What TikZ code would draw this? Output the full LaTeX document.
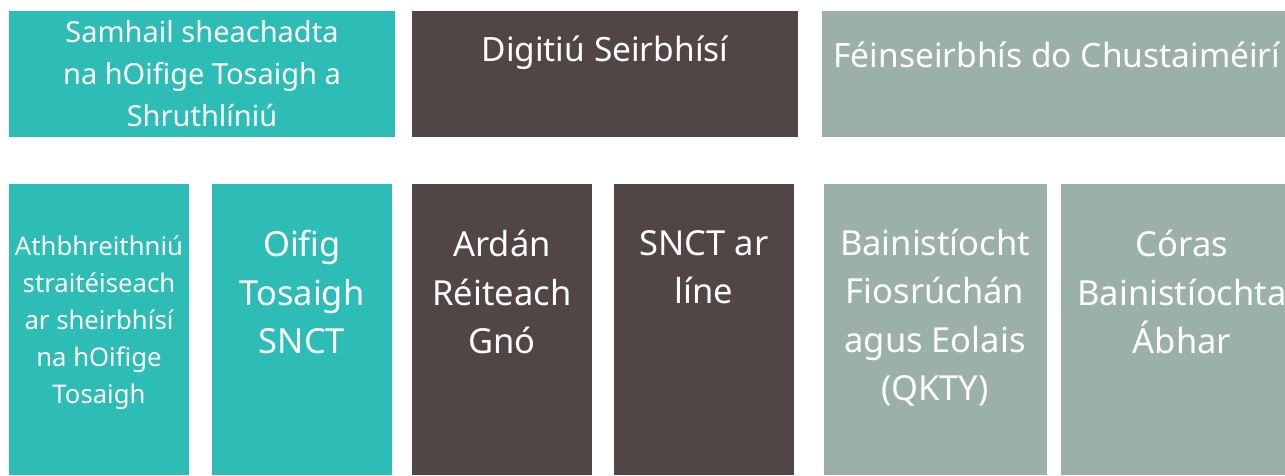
\documentclass[tikz,border=0pt]{standalone}
\usepackage{fontspec}
\setmainfont{Noto Sans}
\definecolor{teal1}{HTML}{2EBDB6}
\definecolor{brown1}{HTML}{524546}
\definecolor{gray1}{HTML}{9CB0AB}
\begin{document}
\begin{tikzpicture}[x=1pt,y=-1pt,
  txt/.style={text=white,align=center,inner sep=0pt},
  big/.style={font=\fontsize{29}{42}\selectfont},
  head/.style={font=\fontsize{33.5}{42}\selectfont},
  mid/.style={font=\fontsize{34.5}{48.5}\selectfont},
  small/.style={font=\fontsize{25.7}{37}\selectfont}]
\useasboundingbox (0,0) rectangle (1285,475);
% top row
\fill[teal1] (9,11) rectangle (395,137);
\fill[brown1] (412,11) rectangle (798,137);
\fill[gray1] (822,11) rectangle (1285,137);
% bottom row
\fill[teal1] (9,184) rectangle (189,475);
\fill[teal1] (212,184) rectangle (392,475);
\fill[brown1] (412,184) rectangle (592,475);
\fill[brown1] (614,184) rectangle (794,475);
\fill[gray1] (824,184) rectangle (1047,475);
\fill[gray1] (1061,184) rectangle (1285,475);
% texts
\node[txt,big] (a) at (202,73.5) {Samhail sheachadta\\na hOifige Tosaigh a\\Shruthlíniú};
\node[txt,head] (b) at (605,53) {Digitiú Seirbhísí};
\node[txt,head] (c) at (1057,55) {Féinseirbhís do Chustaiméirí};
\node[txt,small] (d) at (99,323) {Athbhreithniú\\straitéiseach\\ar sheirbhísí\\na hOifige\\Tosaigh};
\node[txt,mid] (e) at (302,292) {Oifig\\Tosaigh\\SNCT};
\node[txt,mid] (f) at (502,292) {Ardán\\Réiteach\\Gnó};
\node[txt,mid] (g) at (704,267) {SNCT ar\\líne};
\node[txt,mid] (h) at (935,317.5) {Bainistíocht\\Fiosrúchán\\agus Eolais\\(QKTY)};
\node[txt,mid] (i) at (1182,292) {Córas\\Bainistíochta\\Ábhar};
\end{tikzpicture}
\end{document}
